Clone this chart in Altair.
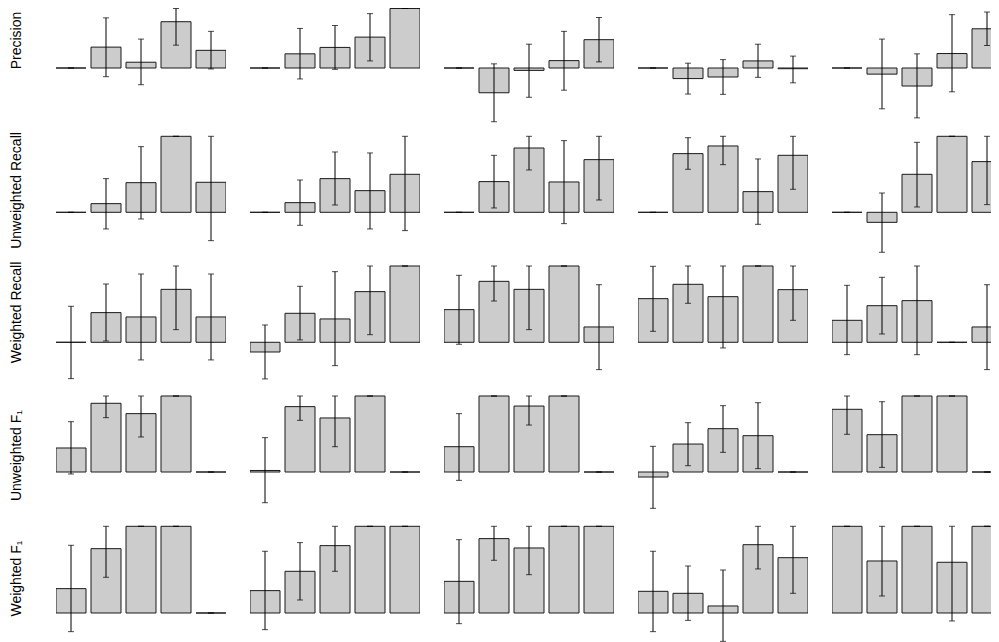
import altair as alt
import pandas as pd

ROW_LABELS = ["Precision", "Unweighted Recall", "Weighted Recall", "Unweighted F₁", "Weighted F₁"]
BARS = [1, 2, 3, 4, 5]

# values per row: 5 panels x 5 bars
precision_val = [[0, 0.351, 0.097, 0.778, 0.297],
                 [0, 0.238, 0.346, 0.519, 1.0],
                 [0, -0.416, -0.04, 0.124, 0.476],
                 [0, -0.178, -0.151, 0.119, -0.012],
                 [0, -0.103, -0.303, 0.243, 0.659]]
precision_hi = [[0, 0.843, 0.486, 1.0, 0.616],
                [0, 0.665, 0.714, 0.914, 1.0],
                [0, 0.070, 0.4, 0.616, 0.849],
                [0, 0.081, 0.141, 0.4, 0.2],
                [0, 0.486, 0.238, 0.897, 0.941]]
precision_lo = [[0, -0.146, -0.281, 0.384, -0.016],
                [0, -0.184, -0.022, 0.119, 1.0],
                [0, -0.903, -0.492, -0.373, 0.103],
                [0, -0.438, -0.443, -0.157, -0.249],
                [0, -0.686, -0.838, -0.4, 0.378]]

urecall_val = [[0, 0.114, 0.390, 1.0, 0.395],
               [0, 0.127, 0.443, 0.285, 0.5],
               [0, 0.404, 0.846, 0.399, 0.693],
               [0, 0.772, 0.873, 0.272, 0.75],
               [0, -0.132, 0.5, 1.0, 0.667]]
urecall_hi = [[0, 0.443, 0.864, 1.0, 1.0],
              [0, 0.425, 0.794, 0.781, 1.0],
              [0, 0.75, 1.0, 0.943, 1.0],
              [0, 0.982, 1.0, 0.702, 1.0],
              [0, 0.254, 0.921, 1.0, 1.0]]
urecall_lo = [[0, -0.219, -0.088, 1.0, -0.373],
              [0, -0.171, 0.096, -0.219, -0.241],
              [0, 0.057, 0.557, -0.149, 0.162],
              [0, 0.566, 0.627, -0.158, 0.303],
              [0, -0.526, 0.070, 1.0, 0.101]]

wrecall_val = [[0, 0.389, 0.332, 0.694, 0.332],
               [-0.127, 0.380, 0.306, 0.664, 1.0],
               [0.428, 0.799, 0.694, 1.0, 0.201],
               [0.572, 0.760, 0.598, 1.0, 0.690],
               [0.288, 0.480, 0.546, 0, 0.201]]
wrecall_hi = [[0.472, 0.764, 0.895, 1.0, 0.895],
              [0.227, 0.734, 0.926, 1.0, 1.0],
              [0.878, 1.0, 1.0, 1.0, 0.755],
              [0.996, 1.0, 1.0, 1.0, 1.0],
              [0.747, 0.852, 1.0, 0, 0.755]]
wrecall_lo = [[-0.476, 0.017, -0.231, 0.166, -0.231],
              [-0.480, 0.031, -0.306, 0.100, 1.0],
              [-0.026, 0.541, 0.166, 1.0, -0.358],
              [0.144, 0.511, -0.074, 1.0, 0.288],
              [-0.162, 0.109, -0.162, 0, -0.358]]

uf1_val = [[0.316, 0.904, 0.768, 1.0, 0],
           [0.02, 0.860, 0.711, 1.0, 0],
           [0.333, 1.0, 0.868, 1.0, 0],
           [-0.066, 0.368, 0.570, 0.478, 0],
           [0.825, 0.491, 1.0, 1.0, 0]]
uf1_hi = [[0.662, 1.0, 1.0, 1.0, 0],
          [0.452, 1.0, 1.0, 1.0, 0],
          [0.768, 1.0, 1.0, 1.0, 0],
          [0.338, 0.649, 0.873, 0.912, 0],
          [1.0, 0.925, 1.0, 1.0, 0]]
uf1_lo = [[-0.026, 0.715, 0.461, 1.0, 0],
          [-0.404, 0.680, 0.333, 1.0, 0],
          [-0.110, 1.0, 0.618, 1.0, 0],
          [-0.478, 0.083, 0.259, 0.044, 0],
          [0.496, 0.061, 1.0, 1.0, 0]]

wf1_val = [[0.281, 0.742, 1.0, 1.0, 0],
           [0.258, 0.481, 0.777, 1.0, 1.0],
           [0.365, 0.858, 0.75, 1.0, 1.0],
           [0.25, 0.227, 0.081, 0.788, 0.638],
           [1.0, 0.6, 1.0, 0.585, 1.0]]
wf1_hi = [[0.781, 1.0, 1.0, 1.0, 0],
          [0.712, 0.812, 1.0, 1.0, 1.0],
          [0.846, 1.0, 1.0, 1.0, 1.0],
          [0.712, 0.542, 0.496, 1.0, 1.0],
          [1.0, 1.0, 1.0, 1.0, 1.0]]
wf1_lo = [[-0.215, 0.412, 1.0, 1.0, 0],
          [-0.192, 0.150, 0.481, 1.0, 1.0],
          [-0.123, 0.608, 0.442, 1.0, 1.0],
          [-0.215, -0.085, -0.327, 0.508, 0.227],
          [1.0, 0.196, 1.0, -0.092, 1.0]]

VALS = [precision_val, urecall_val, wrecall_val, uf1_val, wf1_val]
HIS = [precision_hi, urecall_hi, wrecall_hi, uf1_hi, wf1_hi]
LOS = [precision_lo, urecall_lo, wrecall_lo, uf1_lo, wf1_lo]

# scale / layout settings (per row / per column)
DOM = [[-1.0252, 1.0084], [-0.6144, 1.0961], [-0.6121, 1.0917], [-0.6184, 1.0921], [-0.3691, 1.0842]]
ROW_H = [121, 130, 130, 130, 126]
TITLE_Y = [32, 61, 53, 66, 59]
PANEL_W = [170, 170, 170, 170, 159]


def panel(r, c):
    df = pd.DataFrame({"bar": BARS, "val": VALS[r][c], "lo": LOS[r][c], "hi": HIS[r][c]})
    x = alt.X("bar:O", scale=alt.Scale(range=[0, 170], paddingInner=1 / 7, paddingOuter=0), axis=None)
    ysc = alt.Scale(domain=DOM[r], nice=False, zero=False)
    if c == 0:
        ax = alt.Axis(title=ROW_LABELS[r], labels=False, ticks=False, domain=False, grid=False,
                      titleX=-33, titleY=TITLE_Y[r], titleAngle=-90, titleBaseline="bottom",
                      titleAlign="center", titleFont="Liberation Sans", titleFontSize=14,
                      titleFontWeight="normal", titleColor="black")
    else:
        ax = None
    base = alt.Chart(df)
    bars = base.mark_bar(fill="#cccccc", stroke="#1a1a1a", strokeWidth=1, clip=True).encode(
        x=x, y=alt.Y("val:Q", scale=ysc, axis=ax), y2=alt.datum(0))
    rule = base.mark_rule(color="black", strokeWidth=1, clip=True).encode(
        x=x, y=alt.Y("lo:Q", scale=ysc, axis=ax), y2="hi:Q")
    cap_lo = base.mark_tick(color="black", size=6, thickness=1, clip=True).encode(
        x=x, y=alt.Y("lo:Q", scale=ysc, axis=ax))
    cap_hi = base.mark_tick(color="black", size=6, thickness=1, clip=True).encode(
        x=x, y=alt.Y("hi:Q", scale=ysc, axis=ax))
    return alt.layer(bars, rule, cap_lo, cap_hi).properties(width=PANEL_W[c], height=ROW_H[r])


rows = [alt.hconcat(*[panel(r, c) for c in range(5)], spacing=24) for r in range(5)]
chart = alt.vconcat(*rows, spacing=0).properties(padding=0, background="white").configure_view(
    strokeWidth=0, strokeOpacity=0)

chart.save("out.html", embed_options={"renderer": "svg", "actions": False})
